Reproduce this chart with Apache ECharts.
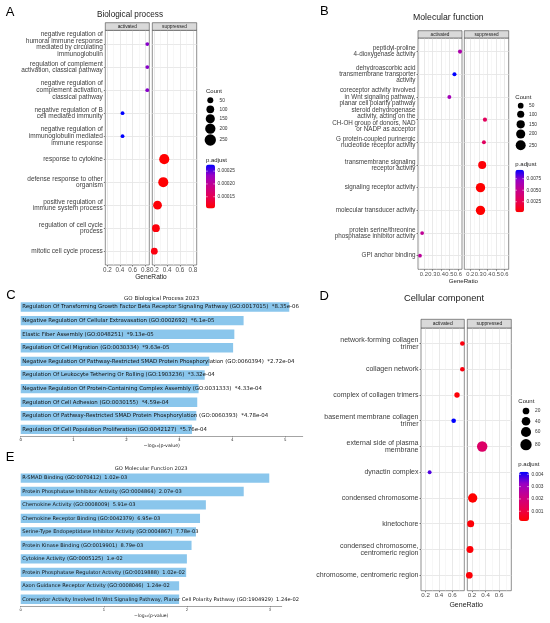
<!DOCTYPE html>
<html>
<head>
<meta charset="utf-8">
<script src="https://cdn.jsdelivr.net/npm/echarts@6/dist/echarts.min.js"></script>
<style>
  html, body { margin: 0; padding: 0; background: #fff; }
  #chart { width: 550px; height: 623px; }
</style>
</head>
<body>
<div id="chart"></div>
<script>
// ---- A: Biological process (dot plot) ----
const bpTerms = [
  'negative regulation of\nhumoral immune response\nmediated by circulating\nimmunoglobulin',
  'regulation of complement\nactivation, classical pathway',
  'negative regulation of\ncomplement activation,\nclassical pathway',
  'negative regulation of B\ncell mediated immunity',
  'negative regulation of\nimmunoglobulin mediated\nimmune response',
  'response to cytokine',
  'defense response to other\norganism',
  'positive regulation of\nimmune system process',
  'regulation of cell cycle\nprocess',
  'mitotic cell cycle process'
]
const bpGroup = ['activated', 'activated', 'activated', 'activated', 'activated',
  'suppressed', 'suppressed', 'suppressed', 'suppressed', 'suppressed']
const bpRatio = [0.83, 0.83, 0.83, 0.44, 0.44, 0.355, 0.34, 0.25, 0.225, 0.2]
const bpCount = [12, 12, 12, 12, 12, 190, 190, 135, 100, 70]
const bpPadj = [0.000238, 0.000238, 0.000238, 0.000276, 0.000276, 0.000104, 0.000105, 0.000108, 0.00011, 0.000112]
const bpXMajor = [0.2, 0.4, 0.6, 0.8]
const bpXMinor = [0.3, 0.5, 0.7]
const bpCountBreaks = [50, 100, 150, 200, 250]
const bpPadjTicks = [0.00015, 0.0002, 0.00025]

// ---- B: Molecular function (dot plot) ----
const mfTerms = [
  'peptidyl-proline\n4-dioxygenase activity',
  'dehydroascorbic acid\ntransmembrane transporter\nactivity',
  'coreceptor activity involved\nin Wnt signaling pathway,\nplanar cell polarity pathway',
  'steroid dehydrogenase\nactivity, acting on the\nCH-OH group of donors, NAD\nor NADP as acceptor',
  'G protein-coupled purinergic\nnucleotide receptor activity',
  'transmembrane signaling\nreceptor activity',
  'signaling receptor activity',
  'molecular transducer activity',
  'protein serine/threonine\nphosphatase inhibitor activity',
  'GPI anchor binding'
]
const mfGroup = ['activated', 'activated', 'activated', 'suppressed', 'suppressed',
  'suppressed', 'suppressed', 'suppressed', 'activated', 'activated']
const mfRatio = [0.625, 0.56, 0.5, 0.372, 0.36, 0.34, 0.32, 0.32, 0.18, 0.155]
const mfCount = [14, 14, 12, 16, 12, 140, 210, 210, 10, 9]
const mfPadj = [0.0062, 0.00946, 0.0067, 0.003, 0.0031, 0.0004, 0.0002, 0.0002, 0.0053, 0.0055]
const mfXMajor = [0.2, 0.3, 0.4, 0.5, 0.6]
const mfXMinor = [0.15, 0.25, 0.35, 0.45, 0.55]
const mfCountBreaks = [50, 100, 150, 200, 250]
const mfPadjTicks = [0.0025, 0.005, 0.0075]

// ---- D: Cellular component (dot plot) ----
const ccTerms = [
  'network-forming collagen\ntrimer',
  'collagen network',
  'complex of collagen trimers',
  'basement membrane collagen\ntrimer',
  'external side of plasma\nmembrane',
  'dynactin complex',
  'condensed chromosome',
  'kinetochore',
  'condensed chromosome,\ncentromeric region',
  'chromosome, centromeric region'
]
const ccGroup = ['activated', 'activated', 'activated', 'activated', 'suppressed',
  'activated', 'suppressed', 'suppressed', 'suppressed', 'suppressed']
const ccRatio = [0.75, 0.75, 0.67, 0.62, 0.35, 0.26, 0.21, 0.18, 0.17, 0.16]
const ccCount = [6, 6, 10, 6, 65, 3, 49, 23, 22, 20]
const ccPadj = [0.0004, 0.0004, 0.0003, 0.00421, 0.0016, 0.0037, 0.00021, 0.0003, 0.0003, 0.0003]
const ccXMajor = [0.2, 0.4, 0.6]
const ccXMinor = [0.3, 0.5, 0.7]
const ccCountBreaks = [20, 40, 60, 80]
const ccPadjTicks = [0.001, 0.002, 0.003, 0.004]

// ---- C: GO Biological Process 2023 (Enrichr bars) ----
const bpEnrTerms = [
  'Regulation Of Transforming Growth Factor Beta Receptor Signaling Pathway (GO:0017015)',
  'Negative Regulation Of Cellular Extravasation (GO:0002692)',
  'Elastic Fiber Assembly (GO:0048251)',
  'Regulation Of Cell Migration (GO:0030334)',
  'Negative Regulation Of Pathway-Restricted SMAD Protein Phosphorylation (GO:0060394)',
  'Regulation Of Leukocyte Tethering Or Rolling (GO:1903236)',
  'Negative Regulation Of Protein-Containing Complex Assembly (GO:0031333)',
  'Regulation Of Cell Adhesion (GO:0030155)',
  'Regulation Of Pathway-Restricted SMAD Protein Phosphorylation (GO:0060393)',
  'Regulation Of Cell Population Proliferation (GO:0042127)'
]
const bpEnrP = ['8.35e-06', '6.1e-05', '9.13e-05', '9.63e-05', '2.72e-04',
  '3.32e-04', '4.33e-04', '4.59e-04', '4.78e-04', '5.76e-04']
const bpEnrTicks = [0, 1, 2, 3, 4, 5]

// ---- E: GO Molecular Function 2023 (Enrichr bars) ----
const mfEnrTerms = [
  'R-SMAD Binding (GO:0070412)',
  'Protein Phosphatase Inhibitor Activity (GO:0004864)',
  'Chemokine Activity (GO:0008009)',
  'Chemokine Receptor Binding (GO:0042379)',
  'Serine-Type Endopeptidase Inhibitor Activity (GO:0004867)',
  'Protein Kinase Binding (GO:0019901)',
  'Cytokine Activity (GO:0005125)',
  'Protein Phosphatase Regulator Activity (GO:0019888)',
  'Axon Guidance Receptor Activity (GO:0008046)',
  'Coreceptor Activity Involved In Wnt Signaling Pathway, Planar Cell Polarity Pathway (GO:1904929)'
]
const mfEnrP = ['1.02e-03', '2.07e-03', '5.91e-03', '6.95e-03', '7.78e-03',
  '8.79e-03', '1.e-02', '1.02e-02', '1.24e-02', '1.24e-02']
const mfEnrTicks = [0, 1, 2, 3]

const FONT_R = "'Liberation Sans', Arial, sans-serif"
const FONT_M = "'DejaVu Sans', sans-serif"
const RAMP = ['#FF0000', '#E80050', '#C90089', '#9A00C3', '#0000FF']
const BAR = '#8AC6EC'

const option = {
  animation: false,
  backgroundColor: '#fff',
  grid: [], xAxis: [], yAxis: [], series: [], visualMap: [],
  graphic: { elements: [] }
}
const gfx = option.graphic.elements

function text(x, y, str, size, o) {
  o = o || {}
  gfx.push({
    type: 'text', x: x, y: y, z: 100, silent: true,
    style: {
      text: str,
      font: 'normal ' + size + 'px ' + (o.family || FONT_R),
      fill: o.color || '#1a1a1a',
      align: o.align || 'left', textAlign: o.align || 'left',
      verticalAlign: 'middle', textVerticalAlign: 'middle'
    }
  })
}

function dotPanel(p) {
  const n = p.terms.length
  const lo = Math.min(...p.ratio), hi = Math.max(...p.ratio)
  const xMin = lo - (hi - lo) * 0.05, xMax = hi + (hi - lo) * 0.05
  const pMin = Math.min(...p.padj), pMax = Math.max(...p.padj)
  const size = c => p.sizeA + p.sizeB * Math.sqrt(c)
  const idx = p.terms.map((t, i) => i)
  const seriesIdx = []

  ;['activated', 'suppressed'].forEach((grp, f) => {
    const x0 = p.facetX[f][0], x1 = p.facetX[f][1]
    const gi = option.grid.length
    option.grid.push({
      left: x0, top: p.top, width: x1 - x0, height: p.bottom - p.top,
      show: true, backgroundColor: '#fff', borderColor: '#444', borderWidth: 0.6
    })
    const xi = option.xAxis.length
    option.xAxis.push({
      type: 'value', gridIndex: gi, min: xMin, max: xMax, position: 'bottom',
      axisLine: { show: false, onZero: false },
      axisTick: { show: true, length: 1.5, lineStyle: { color: '#333', width: 0.6 }, customValues: p.xMajor },
      axisLabel: {
        customValues: p.xMajor, fontSize: p.tickSize, color: '#4D4D4D', fontFamily: FONT_R,
        margin: 2, formatter: v => v.toFixed(1)
      },
      splitLine: { show: true, customValues: p.xMajor, lineStyle: { color: '#E3E3E3', width: 0.8 } }
    })
    option.xAxis.push({
      type: 'value', gridIndex: gi, min: xMin, max: xMax, position: 'top',
      axisLine: { show: false, onZero: false },
      axisTick: { show: false, customValues: p.xMinor },
      axisLabel: { show: false, customValues: p.xMinor },
      splitLine: { show: true, customValues: p.xMinor, lineStyle: { color: '#EFEFEF', width: 0.5 } }
    })
    const yi = option.yAxis.length
    option.yAxis.push({
      type: 'value', gridIndex: gi, min: -0.6, max: n - 0.4, inverse: true,
      axisLine: { show: false, onZero: false },
      axisTick: { show: f === 0, length: 1.5, lineStyle: { color: '#333', width: 0.6 }, customValues: idx },
      axisLabel: {
        show: f === 0, customValues: idx, formatter: v => p.terms[Math.round(v)],
        fontSize: p.labelSize, lineHeight: p.labelLH, color: '#3C3C3C', fontFamily: FONT_R,
        margin: 2.5, align: 'right'
      },
      splitLine: { show: true, customValues: idx, lineStyle: { color: '#E3E3E3', width: 0.8 } }
    })
    const data = []
    p.terms.forEach((t, i) => {
      if (p.group[i] === grp) data.push([p.ratio[i], i, p.count[i], p.padj[i]])
    })
    seriesIdx.push(option.series.length)
    option.series.push({
      type: 'scatter', xAxisIndex: xi, yAxisIndex: yi, data: data,
      symbolSize: d => size(d[2]), itemStyle: { opacity: 1 }, silent: true, z: 5
    })
    // facet strip
    gfx.push({
      type: 'rect', z: 100, silent: true,
      shape: { x: x0, y: p.stripTop, width: x1 - x0, height: p.top - p.stripTop },
      style: { fill: '#D9D9D9', stroke: '#444', lineWidth: 0.6 }
    })
    text((x0 + x1) / 2, (p.stripTop + p.top) / 2 + 0.3, grp, p.stripSize, { align: 'center' })
  })

  option.visualMap.push({
    type: 'continuous', seriesIndex: seriesIdx, dimension: 3, min: pMin, max: pMax,
    inRange: { color: RAMP }, calculable: false, hoverLink: false, orient: 'vertical',
    left: p.barX, top: p.barTop, itemWidth: p.barW, itemHeight: p.barBottom - p.barTop,
    padding: 0, text: null
  })

  // titles, panel letter, axis title
  text(p.titleX, p.titleY, p.title, p.titleSize, { align: 'center' })
  text(p.letterX, p.letterY, p.letter, 13, { align: 'center', color: '#000' })
  text((p.facetX[0][0] + p.facetX[1][1]) / 2, p.axisTitleY, 'GeneRatio', p.axisTitleSize, { align: 'center', color: '#1a1a1a' })

  // size legend
  text(p.legX, p.countTitleY, 'Count', 6)
  p.countBreaks.forEach((c, k) => {
    gfx.push({
      type: 'circle', z: 100, silent: true,
      shape: { cx: p.countDotX, cy: p.countDotY[k], r: size(c) / 2 },
      style: { fill: '#000' }
    })
    text(p.countLabelX, p.countDotY[k], String(c), 4.8, { color: '#333' })
  })

  // colour bar legend
  text(p.legX, p.padjTitleY, 'p.adjust', 6)
  const h = p.barBottom - p.barTop
  p.padjTicks.forEach(v => {
    const y = p.barTop + (pMax - v) / (pMax - pMin) * h
    gfx.push({ type: 'line', z: 100, silent: true, shape: { x1: p.barX, y1: y, x2: p.barX + p.barW * 0.2, y2: y }, style: { stroke: '#fff', lineWidth: 0.5 } })
    gfx.push({ type: 'line', z: 100, silent: true, shape: { x1: p.barX + p.barW * 0.8, y1: y, x2: p.barX + p.barW, y2: y }, style: { stroke: '#fff', lineWidth: 0.5 } })
    text(p.barX + p.barW + 2.5, y, v.toFixed(p.padjDigits), 4.8, { color: '#333' })
  })
}

function barPanel(p) {
  const vals = p.pvals.map(s => -Math.log10(parseFloat(s)))
  const xMax = Math.max(...vals) * 1.05
  const gi = option.grid.length
  option.grid.push({ left: p.left, top: p.top, width: p.width, height: p.height, show: false })
  const xi = option.xAxis.length
  option.xAxis.push({
    type: 'value', gridIndex: gi, min: 0, max: xMax,
    name: '\u2212log\u2081\u2080(p-value)', nameLocation: 'middle', nameGap: p.nameGap,
    nameTextStyle: { fontSize: p.fs * 0.88, fontFamily: FONT_M, color: '#222' },
    axisLine: { show: true, onZero: false, lineStyle: { color: '#666', width: 0.6 } },
    axisTick: { show: true, length: 1.5, customValues: p.ticks, lineStyle: { color: '#666', width: 0.5 } },
    axisLabel: { customValues: p.ticks, fontSize: p.fs * 0.72, fontFamily: FONT_M, color: '#222', margin: 1.8 },
    splitLine: { show: false }
  })
  const yi = option.yAxis.length
  option.yAxis.push({ type: 'category', gridIndex: gi, data: p.terms, inverse: true, show: false })
  option.series.push({
    type: 'bar', xAxisIndex: xi, yAxisIndex: yi, data: vals, barCategoryGap: '31%',
    itemStyle: { color: BAR }, silent: true,
    label: {
      show: true, position: 'insideLeft', distance: 1.5,
      formatter: prm => p.terms[prm.dataIndex] + '  ' + p.mark + p.pvals[prm.dataIndex],
      fontSize: p.fs, fontFamily: FONT_M, color: '#111'
    }
  })
  text(p.left + p.width / 2, p.titleY, p.title, p.fs * 1.01, { align: 'center', family: FONT_M, color: '#222' })
  text(p.letterX, p.letterY, p.letter, 13, { align: 'center', color: '#000' })
}

dotPanel({
  terms: bpTerms, group: bpGroup, ratio: bpRatio, count: bpCount, padj: bpPadj,
  xMajor: bpXMajor, xMinor: bpXMinor, countBreaks: bpCountBreaks, padjTicks: bpPadjTicks, padjDigits: 5,
  facetX: [[105.3, 149.3], [152.3, 196.7]], stripTop: 22.7, top: 30.3, bottom: 265,
  labelSize: 6.5, labelLH: 6.7, tickSize: 6.3, stripSize: 4.8, axisTitleY: 276.7, axisTitleSize: 6.6,
  title: 'Biological process', titleX: 130, titleY: 15, titleSize: 8.2,
  letter: 'A', letterX: 10, letterY: 12,
  sizeA: 1.71, sizeB: 0.606,
  legX: 206, countTitleY: 91, countDotX: 210.3, countDotY: [100.3, 109.3, 118.7, 128.7, 140], countLabelX: 219.5,
  padjTitleY: 160.7, barX: 206, barW: 9, barTop: 164.5, barBottom: 208.5
})

dotPanel({
  terms: mfTerms, group: mfGroup, ratio: mfRatio, count: mfCount, padj: mfPadj,
  xMajor: mfXMajor, xMinor: mfXMinor, countBreaks: mfCountBreaks, padjTicks: mfPadjTicks, padjDigits: 4,
  facetX: [[418, 462], [464.3, 508.7]], stripTop: 30.7, top: 38, bottom: 269.3,
  labelSize: 6.3, labelLH: 6.3, tickSize: 5.8, stripSize: 4.7, axisTitleY: 281.3, axisTitleSize: 6.1,
  title: 'Molecular function', titleX: 448.3, titleY: 17.3, titleSize: 8.7,
  letter: 'B', letterX: 324.3, letterY: 11.7,
  sizeA: 2.23, sizeB: 0.49,
  legX: 515.3, countTitleY: 97.5, countDotX: 520.7, countDotY: [105.7, 114.3, 124.3, 134, 145.3], countLabelX: 529,
  padjTitleY: 164.7, barX: 515.3, barW: 8.7, barTop: 169.7, barBottom: 212.3
})

dotPanel({
  terms: ccTerms, group: ccGroup, ratio: ccRatio, count: ccCount, padj: ccPadj,
  xMajor: ccXMajor, xMinor: ccXMinor, countBreaks: ccCountBreaks, padjTicks: ccPadjTicks, padjDigits: 3,
  facetX: [[421, 464.3], [467.3, 511.3]], stripTop: 319.3, top: 328, bottom: 590.7,
  labelSize: 7, labelLH: 7.3, tickSize: 6.2, stripSize: 5, axisTitleY: 605.3, axisTitleSize: 7,
  title: 'Cellular component', titleX: 444, titleY: 298.3, titleSize: 9.3,
  letter: 'D', letterX: 324.3, letterY: 296.7,
  sizeA: 2.1, sizeB: 1.03,
  legX: 518.3, countTitleY: 401, countDotX: 526, countDotY: [411, 421.3, 432, 444.7], countLabelX: 535,
  padjTitleY: 464, barX: 519, barW: 10, barTop: 471.7, barBottom: 521
})

barPanel({
  terms: bpEnrTerms, pvals: bpEnrP, ticks: bpEnrTicks, mark: '*', fs: 5.45,
  left: 20.7, top: 300.2, width: 282, height: 136, nameGap: 7.3,
  title: 'GO Biological Process 2023', titleY: 298.3, letter: 'C', letterX: 11, letterY: 295
})

barPanel({
  terms: mfEnrTerms, pvals: mfEnrP, ticks: mfEnrTicks, mark: '', fs: 5.1,
  left: 20.7, top: 471.3, width: 261, height: 134.7, nameGap: 8,
  title: 'GO Molecular Function 2023', titleY: 468.3, letter: 'E', letterX: 10, letterY: 457
})

const chart = echarts.init(document.getElementById('chart'))
chart.setOption(option)
</script>
</body>
</html>
